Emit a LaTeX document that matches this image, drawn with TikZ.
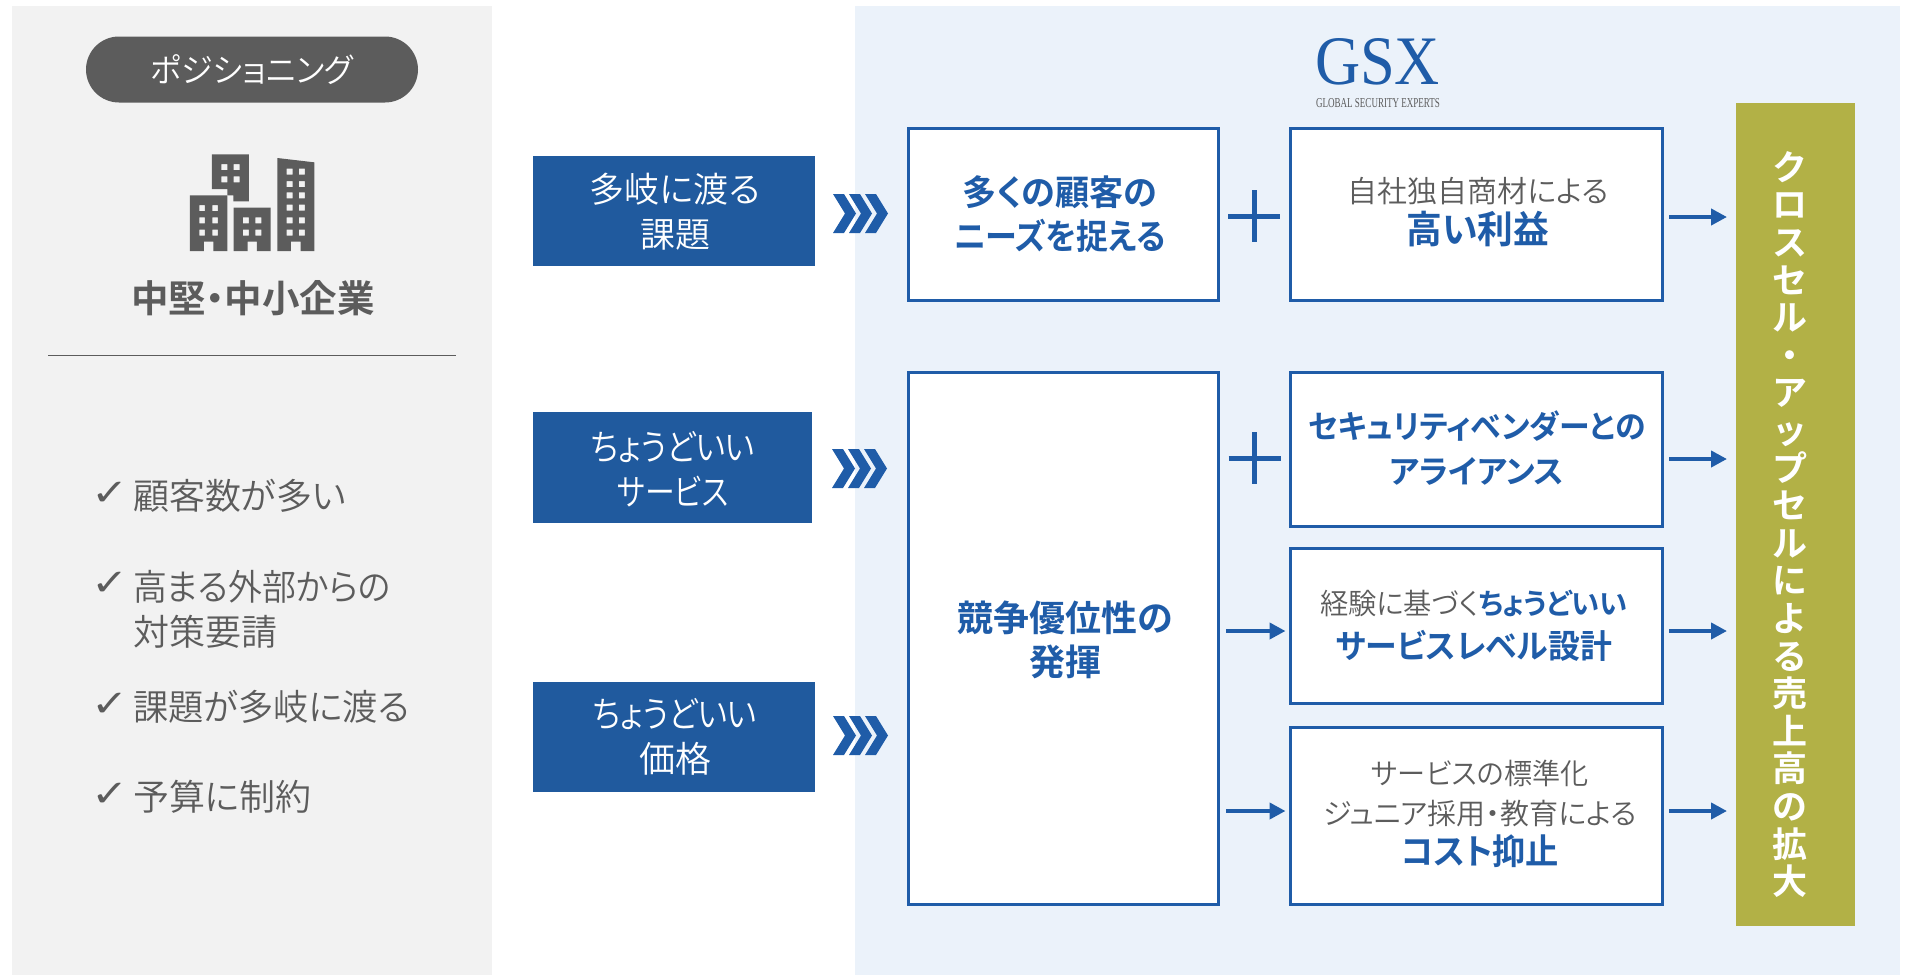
\documentclass[tikz,border=0pt]{standalone}
\usepackage{fontspec}
\usetikzlibrary{arrows.meta}
\setmainfont[RawFeature={+palt},BoldFont={Noto Sans CJK JP Bold}]{Noto Sans CJK JP}
\newfontfamily\vfont[BoldFont={Noto Sans CJK JP Bold}]{Noto Sans CJK JP}
\newfontfamily\thinfont[RawFeature={+palt}]{Noto Sans CJK JP DemiLight}
\newfontfamily\checkfont{DejaVu Sans}
\newfontfamily\logofont{Liberation Serif}
\definecolor{gsxblue}{HTML}{1F5CA8}
\definecolor{fillblue}{HTML}{205A9E}
\definecolor{txtgrey}{HTML}{5C5C5C}
\definecolor{panelgrey}{HTML}{F2F2F2}
\definecolor{panelblue}{HTML}{EBF2FA}
\definecolor{olive}{HTML}{B2B146}
\newcommand{\fs}[2]{\fontsize{#1}{#2}\selectfont}
\newcommand{\inl}[2]{{\fontsize{#1}{#1}\selectfont #2}}
\newcommand{\cnd}[2]{\scalebox{#1}[1]{#2}}
\tikzset{
  whitebox/.style={draw=gsxblue,line width=3pt,fill=white,inner sep=0pt,outer sep=0pt,anchor=north west},
  bluebox/.style={fill=fillblue,inner sep=0pt,outer sep=0pt,anchor=north west},
  txt/.style={inner sep=0pt,outer sep=0pt,align=center,text=txtgrey},
  wtxt/.style={inner sep=0pt,outer sep=0pt,align=center,text=white},
  btxt/.style={inner sep=0pt,outer sep=0pt,align=center,text=gsxblue},
  item/.style={inner sep=0pt,outer sep=0pt,align=left,anchor=west,text=txtgrey},
  chk/.style={inner sep=0pt,outer sep=0pt,text=txtgrey,font=\checkfont\fontsize{37}{37}\selectfont},
  conn/.style={draw=gsxblue,line width=4pt,-{Triangle[length=16pt,width=16pt]}},
  plusbar/.style={draw=gsxblue,line width=5pt},
  chevrons/.pic={
    \foreach \d in {0,16,32}
      \fill[gsxblue] (\d,0)--(\d+11,0)--(\d+23,19.5)--(\d+11,39)--(\d,39)--(\d+12,19.5)--cycle;
  },
  plussign/.pic={
    \draw[plusbar] (-26,0)--(26,0);
    \draw[plusbar] (0,-26)--(0,26);
  }
}
\begin{document}
\begin{tikzpicture}[x=1pt,y=-1pt]
\useasboundingbox (0,0) rectangle (1906,975);
\fill[white] (0,0) rectangle (1906,975);
% panels
\fill[panelgrey] (12,6) rectangle (492,975);
\fill[panelblue] (855,6) rectangle (1900,975);
% pill
\node[fill=txtgrey,rounded corners=33pt,minimum width=332pt,minimum height=66pt,inner sep=0pt,text=white,font=\thinfont\fs{33}{36}] (pill) at (252,69.5) {\cnd{0.97}{ポジショニング}};
% building icon
\begin{scope}[x=0.33333pt,y=-0.33333pt,even odd rule]
\fill[txtgrey] (570,586)--(682,586)--(682,753)--(640,753)--(640,725)--(612,725)--(612,753)--(570,753)--cycle
  \foreach \yy in {615,652,689}{ (598,\yy) rectangle ++(17,18) (637,\yy) rectangle ++(17,18)};
\fill[txtgrey] (636,463)--(747,463)--(747,604)--(700,604)--(700,586)--(682,586)--(682,567)--(636,567)--cycle
  \foreach \yy in {492,529}{ (664,\yy) rectangle ++(18,18) (701,\yy) rectangle ++(18,18)};
\fill[txtgrey] (701,623)--(812,623)--(812,753)--(771,753)--(771,725)--(743,725)--(743,753)--(701,753)--cycle
  \foreach \yy in {652,689}{ (729,\yy) rectangle ++(18,18) (766,\yy) rectangle ++(18,18)};
\fill[txtgrey] (832,474)--(943,487)--(943,753)--(902,753)--(902,725)--(873,725)--(873,753)--(832,753)--cycle
  \foreach \yy in {506,543,577,614,652,689}{ (860,\yy) rectangle ++(18,18) (897,\yy) rectangle ++(18,18)};
\end{scope}
\node[txt,font=\fs{37.5}{40}\bfseries] (seg) at (253,298) {中堅・中小企業};
\draw[draw=txtgrey,line width=1pt] (48,355)--(456,355);
% check list
\node[chk] (c1) at (110.5,494) {\cnd{1.2}{✓}};
\node[chk] (c2) at (110.5,584) {\cnd{1.2}{✓}};
\node[chk] (c3) at (110.5,705) {\cnd{1.2}{✓}};
\node[chk] (c4) at (110.5,795) {\cnd{1.2}{✓}};
\node[item,font=\thinfont\fs{36}{45}] (i1) at (133,496) {顧客数が多い};
\node[item,font=\thinfont\fs{36}{45}] (i2) at (133,609.5) {\cnd{0.94}{高まる外部からの}\\対策要請};
\node[item,font=\thinfont\fs{36}{45}] (i3) at (133,707) {\cnd{0.98}{課題が多岐に渡る}};
\node[item,font=\thinfont\fs{36}{45}] (i4) at (133,797) {予算に制約};
% left blue boxes
\node[bluebox,minimum width=282pt,minimum height=110pt] (a1) at (533,156) {};
\node[bluebox,minimum width=279pt,minimum height=111pt] (a2) at (533,412) {};
\node[bluebox,minimum width=282pt,minimum height=110pt] (a3) at (533,682) {};
\node[wtxt,font=\thinfont\fs{35}{45}] (ta1) at (675,212) {多岐に渡る\\課題};
\node[wtxt,font=\thinfont\fs{36}{45}] (ta2) at (673,469) {\cnd{0.87}{ちょうどいい}\\\cnd{0.83}{サービス}};
\node[wtxt,font=\thinfont\fs{36}{45}] (ta3) at (675,737) {\cnd{0.87}{ちょうどいい}\\価格};
% chevrons
\pic at (833,194) {chevrons};
\pic at (832,449) {chevrons};
\pic at (833,716) {chevrons};
% white boxes
\node[whitebox,minimum width=310pt,minimum height=172pt] (big1) at (908.5,128.5) {};
\node[whitebox,minimum width=310pt,minimum height=532pt] (big2) at (908.5,372.5) {};
\node[whitebox,minimum width=372pt,minimum height=172pt] (r1) at (1290.5,128.5) {};
\node[whitebox,minimum width=372pt,minimum height=154pt] (r2) at (1290.5,372.5) {};
\node[whitebox,minimum width=372pt,minimum height=155pt] (r3) at (1290.5,548.5) {};
\node[whitebox,minimum width=372pt,minimum height=177pt] (r4) at (1290.5,727.5) {};
\node[btxt,font=\fs{35}{44}\bfseries] (tb1) at (1060,214) {\cnd{0.975}{多くの顧客の}\\\cnd{0.915}{ニーズを捉える}};
\node[btxt,font=\fs{36}{44}\bfseries] (tb2) at (1065,640) {競争優位性の\\発揮};
\node[txt,font=\thinfont\fs{30}{41}] (tr1) at (1478,212) {自社独自商材による\\\inl{38}{\normalfont\bfseries\color{gsxblue}\cnd{0.94}{高い利益}}};
\node[btxt,font=\fs{32}{45}\bfseries] (tr2) at (1477,448.5) {\cnd{0.965}{セキュリティベンダーとの}\\アライアンス};
\node[txt,font=\thinfont\fs{29}{43.5}] (tr3) at (1474,625.5) {\cnd{0.975}{経験に基づく{\normalfont\bfseries\color{gsxblue}ちょうどいい}}\\\inl{33}{\normalfont\bfseries\color{gsxblue}\cnd{0.965}{サービスレベル設計}}};
\node[txt,font=\thinfont\fs{29}{40}] (tr4) at (1480,814) {\cnd{0.97}{サービスの標準化}\\ジュニア採用・教育による\\\inl{35}{\normalfont\bfseries\color{gsxblue}\cnd{0.95}{コスト抑止}}};
% olive box
\node[fill=olive,minimum width=119pt,minimum height=823pt,inner sep=0pt,outer sep=0pt,anchor=north west] (goal) at (1736,103) {};
\node[wtxt,font=\vfont\fs{35}{37.6}\bfseries] (tg) at (1790,524.5) {ク\\ロ\\ス\\セ\\ル\\・\\ア\\ッ\\プ\\セ\\ル\\に\\よ\\る\\売\\上\\高\\の\\拡\\大};
% connectors
\coordinate (y1) at (0,217);
\coordinate (y2) at (0,459);
\coordinate (y3) at (0,631);
\coordinate (y4) at (0,811);
\draw[conn,shorten <=6.5pt,shorten >=9pt] (r1.east |- y1) -- (goal.west |- y1);
\draw[conn,shorten <=6.5pt,shorten >=9pt] (r2.east |- y2) -- (goal.west |- y2);
\draw[conn,shorten <=6.5pt,shorten >=9pt] (r3.east |- y3) -- (goal.west |- y3);
\draw[conn,shorten <=6.5pt,shorten >=9pt] (r4.east |- y4) -- (goal.west |- y4);
\draw[conn,shorten <=7.5pt,shorten >=5pt] (big2.east |- y3) -- (r3.west |- y3);
\draw[conn,shorten <=7.5pt,shorten >=5pt] (big2.east |- y4) -- (r4.west |- y4);
% plus signs
\pic at (1254,216) {plussign};
\pic at (1254.5,458) {plussign};
% logo
\node[inner sep=0pt,text=gsxblue] (logo) at (1377.5,62) {\resizebox{125pt}{46pt}{\logofont GSX}};
\node[inner sep=0pt,text=txtgrey] (logot) at (1378,103) {\resizebox{124pt}{9pt}{\logofont GLOBAL SECURITY EXPERTS}};
\end{tikzpicture}
\end{document}
